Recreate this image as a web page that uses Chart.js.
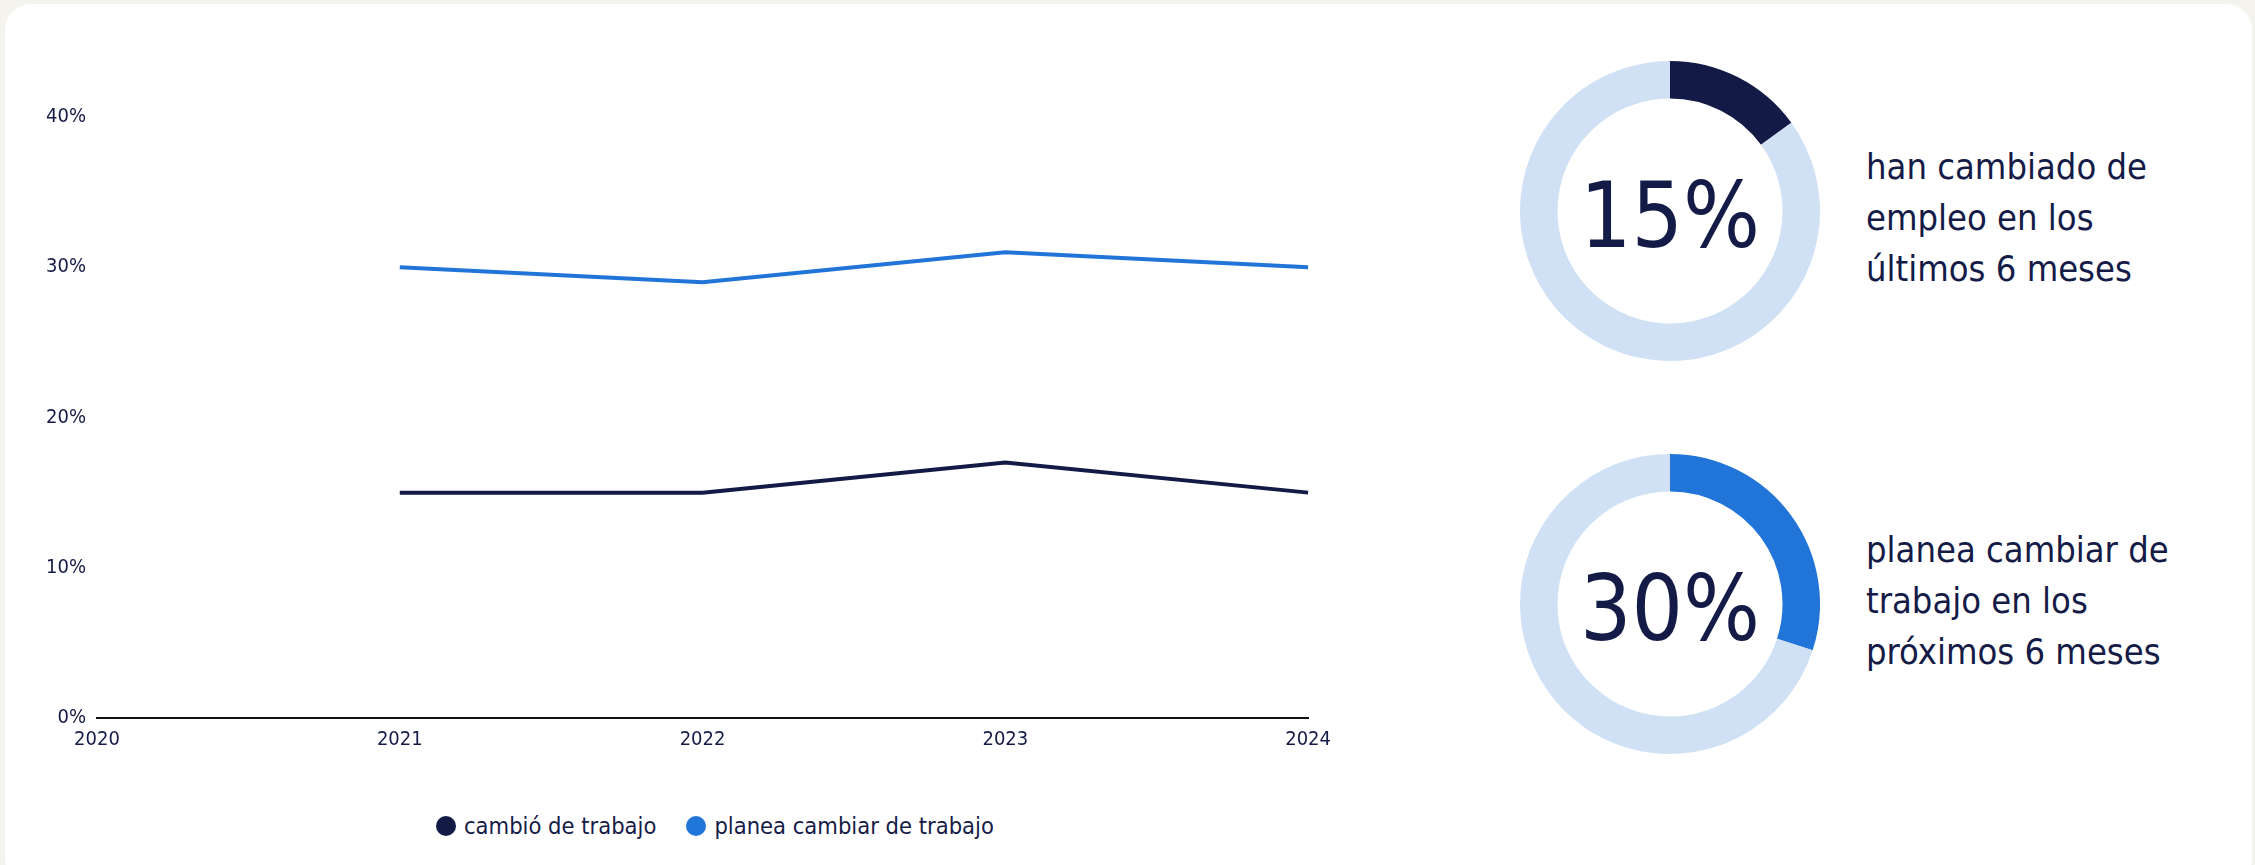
<!DOCTYPE html>
<html>
<head>
<meta charset="utf-8">
<script src="https://cdn.jsdelivr.net/npm/chart.js@4.4.1/dist/chart.umd.min.js"></script>
<style>
  html, body { margin: 0; padding: 0; }
  body {
    width: 2255px;
    height: 865px;
    background: #f4f3ee;
    position: relative;
    overflow: hidden;
    font-family: "DejaVu Sans Condensed", "DejaVu Sans", sans-serif;
    color: #141b47;
  }
  .card {
    position: absolute;
    left: 5px;
    top: 4px;
    width: 2247px;
    height: 880px;
    background: #fff;
    border-radius: 26px;
  }
  .line-box { position: absolute; left: 0; top: 0; width: 1341px; height: 762px; }
  .legend {
    position: absolute;
    left: 436px;
    top: 811px;
    display: flex;
    gap: 30px;
    font-size: 23.5px;
    line-height: 30px;
  }
  .legend span { display: flex; align-items: center; }
  .legend i {
    display: inline-block;
    width: 20px;
    height: 20px;
    border-radius: 50%;
    margin-right: 8px;
  }
  .donut-box { position: absolute; left: 1520px; width: 300px; height: 300px; }
  .donut-center {
    position: absolute;
    left: 0; top: 0; width: 300px; height: 300px;
    display: flex; align-items: center; justify-content: center;
    font-size: 90px;
    padding-top: 8px;
    box-sizing: border-box;
  }
  .donut-text {
    position: absolute;
    left: 1866px;
    font-size: 36px;
    line-height: 51px;
  }
</style>
</head>
<body>
<div class="card"></div>
<div class="line-box"><canvas id="lineChart"></canvas></div>
<div class="legend" id="legend"></div>

<div class="donut-box" style="top:61px"><canvas id="donut1"></canvas><div class="donut-center" id="center1"></div></div>
<div class="donut-text" style="top:141px">han cambiado de<br>empleo en los<br>últimos 6 meses</div>

<div class="donut-box" style="top:454px"><canvas id="donut2"></canvas><div class="donut-center" id="center2"></div></div>
<div class="donut-text" style="top:524px">planea cambiar de<br>trabajo en los<br>próximos 6 meses</div>

<script>
const NAVY = "#121a45";
const BLUE = "#2175d9";
const LIGHT = "#d0e1f5";
const TEXT = "#141b47";
const FONT = "'DejaVu Sans Condensed', 'DejaVu Sans', sans-serif";

const years = ["2020", "2021", "2022", "2023", "2024"];
const changedJob = [null, 15, 15, 17, 15];
const planChange = [null, 30, 29, 31, 30];
const yTicks = [0, 10, 20, 30, 40];

const changedShare = 15;
const plannedShare = 30;

const lineChart = new Chart(document.getElementById("lineChart"), {
  type: "line",
  data: {
    labels: years,
    datasets: [
      { label: "cambió de trabajo", data: changedJob, borderColor: NAVY, backgroundColor: NAVY },
      { label: "planea cambiar de trabajo", data: planChange, borderColor: BLUE, backgroundColor: BLUE },
    ],
  },
  options: {
    responsive: true,
    maintainAspectRatio: false,
    animation: false,
    layout: { padding: { top: 117, right: 0 } },
    elements: {
      line: { borderWidth: 4, tension: 0 },
      point: { radius: 0 },
    },
    plugins: {
      legend: { display: false },
      tooltip: { enabled: false },
    },
    scales: {
      x: {
        offset: false,
        grid: { display: false, drawTicks: false },
        border: { display: true, color: "#111", width: 2 },
        ticks: { color: TEXT, font: { family: FONT, size: 20 }, padding: 10, maxRotation: 0 },
      },
      y: {
        min: yTicks[0],
        max: yTicks[yTicks.length - 1],
        afterBuildTicks: (scale) => { scale.ticks = yTicks.map((v) => ({ value: v })); },
        afterFit: (scale) => { scale.width = 97; },
        grid: { display: false, drawTicks: false },
        border: { display: false },
        ticks: {
          color: TEXT,
          font: { family: FONT, size: 20 },
          padding: 11,
          callback: (v) => `${v}%`,
        },
      },
    },
  },
});

const legend = document.getElementById("legend");
lineChart.data.datasets.forEach((ds) => {
  const item = document.createElement("span");
  item.innerHTML = `<i style="background:${ds.borderColor}"></i>${ds.label}`;
  legend.appendChild(item);
});

function buildDonut(canvasId, centerId, value, color) {
  document.getElementById(centerId).textContent = `${value}%`;
  return new Chart(document.getElementById(canvasId), {
    type: "doughnut",
    data: {
      labels: ["sí", "no"],
      datasets: [{ data: [value, 100 - value], backgroundColor: [color, LIGHT], borderWidth: 0 }],
    },
    options: {
      responsive: true,
      maintainAspectRatio: false,
      animation: false,
      cutout: "75%",
      plugins: { legend: { display: false }, tooltip: { enabled: false } },
    },
  });
}

buildDonut("donut1", "center1", changedShare, NAVY);
buildDonut("donut2", "center2", plannedShare, BLUE);
</script>
</body>
</html>
